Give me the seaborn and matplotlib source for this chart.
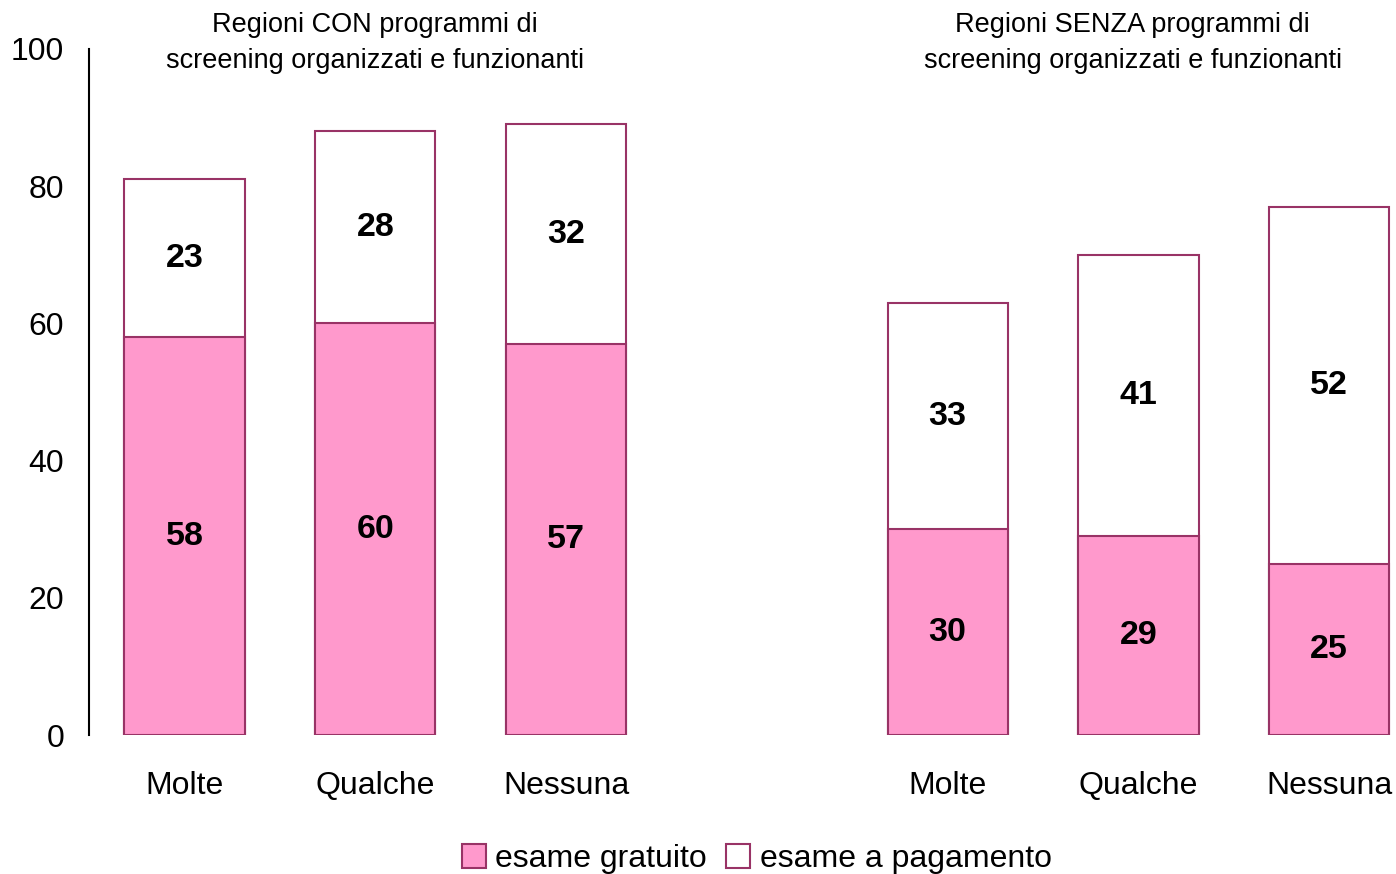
import matplotlib
matplotlib.use("Agg")
import matplotlib.pyplot as plt
import seaborn as sns
import pandas as pd
from matplotlib.patches import Patch

# Data
groups = ["CON", "SENZA"]
group_titles = [
    "Regioni CON programmi di\nscreening organizzati e funzionanti",
    "Regioni SENZA programmi di\nscreening organizzati e funzionanti",
]
categories = ["Molte", "Qualche", "Nessuna"]
gratuito = {"CON": [58, 60, 57], "SENZA": [30, 29, 25]}
pagamento = {"CON": [23, 28, 32], "SENZA": [33, 41, 52]}
y_ticks = [0, 20, 40, 60, 80, 100]
legend_labels = ["esame gratuito", "esame a pagamento"]

PINK = "#FF99CC"
EDGE = "#993366"

rows = []
for g in groups:
    for c, fr, pa in zip(categories, gratuito[g], pagamento[g]):
        rows.append({"key": f"{g}|{c}", "cat": c, "gratuito": fr,
                     "pagamento": pa, "totale": fr + pa})
df = pd.DataFrame(rows)

# slot order with an empty gap between the two groups of regions
order = [f"CON|{c}" for c in categories] + ["_gap"] + [f"SENZA|{c}" for c in categories]

sns.set_theme(style="white")
plt.rcParams["font.family"] = ["Liberation Sans", "DejaVu Sans"]
plt.rcParams["text.color"] = "black"
plt.rcParams["xtick.color"] = "black"
plt.rcParams["ytick.color"] = "black"

fig = plt.figure(figsize=(13.96, 8.74), dpi=100)
ax = fig.add_axes([0.0638, 0.159, 0.9362, 0.785])

bar_w = 0.63
sns.barplot(data=df, x="key", y="totale", order=order, color="white",
            edgecolor=EDGE, linewidth=1.5, width=bar_w, saturation=1, ax=ax)
sns.barplot(data=df, x="key", y="gratuito", order=order, color=PINK,
            edgecolor=EDGE, linewidth=1.5, width=bar_w, saturation=1, ax=ax)

# value labels at the middle of each segment
for _, r in df.iterrows():
    xpos = order.index(r["key"])
    ax.text(xpos, r["gratuito"] / 2, f"{r['gratuito']}", ha="center", va="center",
            fontsize=24.5, fontweight="bold", color="black")
    ax.text(xpos, r["gratuito"] + r["pagamento"] / 2, f"{r['pagamento']}",
            ha="center", va="center", fontsize=24.5, fontweight="bold", color="black")

ax.set_ylim(0, 100)
ax.set_xlim(-0.5, 6.35)
ax.set_yticks(y_ticks)
ax.set_yticklabels([str(t) for t in y_ticks], fontsize=23, color="black")
ax.set_xticks(range(len(order)))
ax.set_xticklabels([k.split("|")[1] if "|" in k else "" for k in order],
                   fontsize=23, color="black")
ax.tick_params(axis="x", length=0, pad=26)
ax.tick_params(axis="y", direction="out", length=10, width=1.5, color="black", pad=8)
ax.set_xlabel("")
ax.set_ylabel("")
for s in ["top", "right", "bottom"]:
    ax.spines[s].set_visible(False)
ax.spines["left"].set_color("black")
ax.spines["left"].set_linewidth(1.5)

# group titles
for i, title in enumerate(group_titles):
    center = order.index(f"{groups[i]}|{categories[1]}")
    xfig = fig.transFigure.inverted().transform(ax.transData.transform((center - 0.03 * i, 0)))[0]
    fig.text(xfig, 1 - 43 / 874, title, ha="center", va="center", fontsize=19.5,
             linespacing=1.5, color="black")

handles = [Patch(facecolor=PINK, edgecolor=EDGE, linewidth=1.5),
           Patch(facecolor="white", edgecolor=EDGE, linewidth=1.5)]
fig.legend(handles, legend_labels, loc="center", bbox_to_anchor=(0.542, 1 - 859 / 874),
           ncol=2, frameon=False, fontsize=23, handlelength=0.75, handleheight=0.75,
           handletextpad=0.3, columnspacing=0.6)

fig.savefig("out.png", dpi=100)
